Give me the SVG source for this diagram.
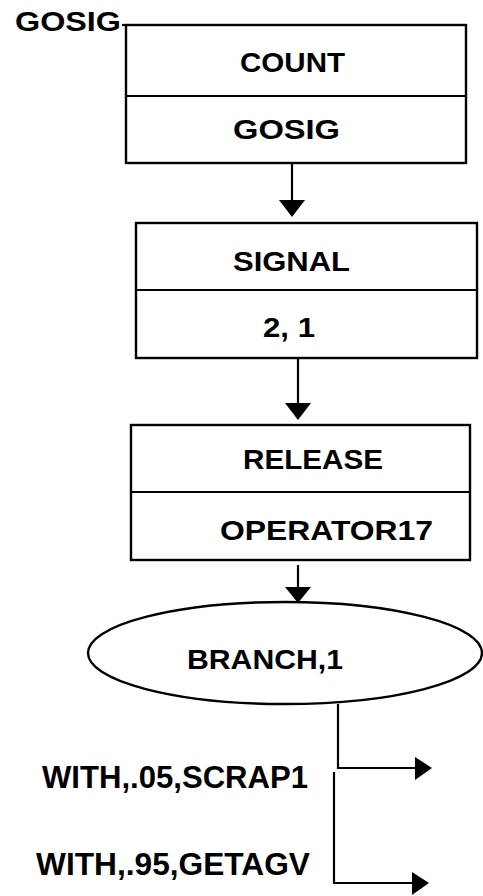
<svg xmlns="http://www.w3.org/2000/svg" width="483" height="896" viewBox="0 0 483 896">
<style>
.box{fill:#fff;stroke:#000;stroke-width:2.4}
.ln{fill:none;stroke:#000;stroke-width:2.2}
.t{font-family:"Liberation Sans",Arial,sans-serif;font-size:28px;font-weight:bold;fill:#000}
.b{font-family:"Liberation Sans",Arial,sans-serif;font-size:31px;font-weight:bold;fill:#000}
</style>
<rect width="483" height="896" fill="#fff"/>
<g id="count">
<text class="t" x="15" y="31" textLength="106" lengthAdjust="spacingAndGlyphs" style="font-size:27px">GOSIG</text>
<rect class="box" x="126" y="25" width="340" height="138"/>
<line class="ln" x1="122" y1="25" x2="126" y2="25"/>
<line class="ln" x1="126" y1="96" x2="466" y2="96"/>
<text class="t" x="240" y="72" textLength="105" lengthAdjust="spacingAndGlyphs">COUNT</text>
<text class="t" x="233" y="139" textLength="107" lengthAdjust="spacingAndGlyphs">GOSIG</text>
</g>
<g id="signal">
<rect class="box" x="136" y="223" width="341" height="135"/>
<line class="ln" x1="136" y1="290" x2="477" y2="290"/>
<text class="t" x="233" y="271" textLength="117" lengthAdjust="spacingAndGlyphs">SIGNAL</text>
<text class="t" x="263" y="337" textLength="52" lengthAdjust="spacingAndGlyphs">2, 1</text>
</g>
<g id="release">
<rect class="box" x="131" y="425" width="339" height="135"/>
<line class="ln" x1="131" y1="492" x2="470" y2="492"/>
<text class="t" x="243" y="469" textLength="140" lengthAdjust="spacingAndGlyphs">RELEASE</text>
<text class="t" x="220" y="540" textLength="213" lengthAdjust="spacingAndGlyphs">OPERATOR17</text>
</g>
<g id="branch">
<ellipse class="box" cx="285" cy="653" rx="197" ry="51"/>
<text class="t" x="187" y="669" textLength="156" lengthAdjust="spacingAndGlyphs">BRANCH,1</text>
</g>
<g id="labels">
<text class="b" x="42" y="788" textLength="266" lengthAdjust="spacingAndGlyphs">WITH,.05,SCRAP1</text>
<text class="b" x="36" y="875" textLength="274" lengthAdjust="spacingAndGlyphs">WITH,.95,GETAGV</text>
</g>
<g id="connectors">
<path d="M292,163 V200" class="ln"/>
<path d="M279,200 L305,200 L292,217 Z" fill="#000"/>
<path d="M298,358 V403" class="ln"/>
<path d="M285,403 L311,403 L298,420 Z" fill="#000"/>
<path d="M298,565 V587" class="ln"/>
<path d="M285,587 L311,587 L298,603 Z" fill="#000"/>
<path d="M338,704 V768 H415" class="ln"/>
<path d="M415,757 L432,768 L415,780 Z" fill="#000"/>
<path d="M334,772 V883 H412" class="ln"/>
<path d="M412,872 L429,883 L412,895 Z" fill="#000"/>
</g>
</svg>
